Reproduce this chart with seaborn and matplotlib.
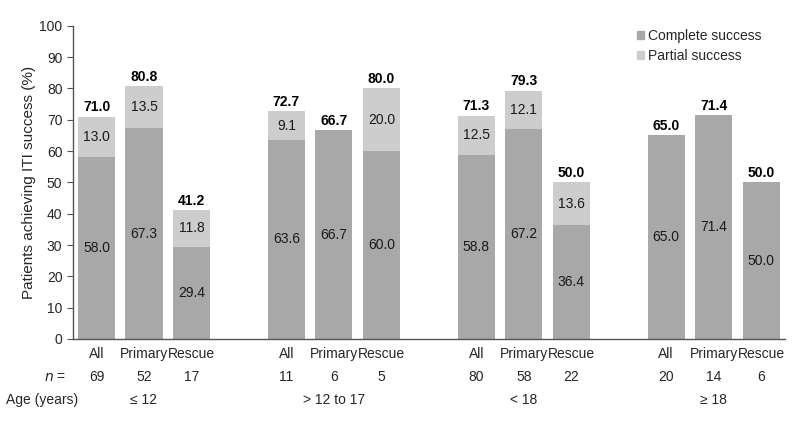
import numpy as np
import matplotlib
matplotlib.use("Agg")
import matplotlib.pyplot as plt
import seaborn as sns
from matplotlib.patches import Patch

sns.set_style("white")
plt.rcParams['font.family'] = ['Liberation Sans', 'DejaVu Sans']

# data
arms = ["All", "Primary", "Rescue"] * 4
n_pat = [69, 52, 17, 11, 6, 5, 80, 58, 22, 20, 14, 6]
age_groups = ["\u2264 12", "> 12 to 17", "< 18", "\u2265 18"]
complete = [58.0, 67.3, 29.4, 63.6, 66.7, 60.0, 58.8, 67.2, 36.4, 65.0, 71.4, 50.0]
partial = [13.0, 13.5, 11.8, 9.1, 0, 20.0, 12.5, 12.1, 13.6, 0, 0, 0]
total = [71.0, 80.8, 41.2, 72.7, 66.7, 80.0, 71.3, 79.3, 50.0, 65.0, 71.4, 50.0]

dark = "#a8a8a8"
light = "#cdcdcd"

pos = [g * 4 + i for g in range(4) for i in range(3)]

fig = plt.figure(figsize=(8, 4.24), dpi=100)
ax = fig.add_axes([0.091, 0.2005, 0.89, 0.7385])

sns.barplot(x=pos, y=total, native_scale=True, color=light, saturation=1,
            width=0.78, ax=ax, edgecolor="none")
sns.barplot(x=pos, y=complete, native_scale=True, color=dark, saturation=1,
            width=0.78, ax=ax, edgecolor="none")

for p, c, pa, t in zip(pos, complete, partial, total):
    ax.text(p, c / 2, f"{c:.1f}", ha="center", va="center", fontsize=10, color="#1a1a1a")
    if pa > 0:
        ax.text(p, c + pa / 2, f"{pa:.1f}", ha="center", va="center", fontsize=10, color="#1a1a1a")
    ax.text(p, t + 3.0, f"{t:.1f}", ha="center", va="center", fontsize=10,
            fontweight="bold", color="black")

ax.set_xlim(-0.5, 14.5)
ax.set_ylim(0, 100)
ax.set_yticks(np.arange(0, 101, 10))
ax.set_xticks(pos)
ax.set_xticklabels(arms, fontsize=10)
ax.tick_params(axis="y", labelsize=10, length=4, direction="out", left=True, color="#555555")
ax.tick_params(axis="x", length=0, pad=6)
ax.set_ylabel("Patients achieving ITI success (%)", fontsize=11, labelpad=2)
ax.set_xlabel("")
for s in ["top", "right"]:
    ax.spines[s].set_visible(False)
for s in ["left", "bottom"]:
    ax.spines[s].set_color("#555555")
    ax.spines[s].set_linewidth(1)

# n row and age row
trans = ax.get_xaxis_transform()
for p, n in zip(pos, n_pat):
    ax.text(p, -0.12, str(n), transform=trans, ha="center", va="center", fontsize=10)
ax.text(-0.65, -0.12, "$n$ =", transform=trans, ha="right", va="center", fontsize=10)
for g, lab in enumerate(age_groups):
    ax.text(g * 4 + 1, -0.195, lab, transform=trans, ha="center", va="center", fontsize=10)
fig.text(0.007, 24 / 424, "Age (years)", ha="left", va="center", fontsize=10)

handles = [Patch(color=dark, label="Complete success"),
           Patch(color=light, label="Partial success")]
ax.legend(handles=handles, loc="upper right", bbox_to_anchor=(0.985, 1.03), frameon=False,
          fontsize=10, handlelength=0.5, handleheight=0.5, handletextpad=0.3,
          labelspacing=0.45)

fig.savefig("out.png", dpi=100)
